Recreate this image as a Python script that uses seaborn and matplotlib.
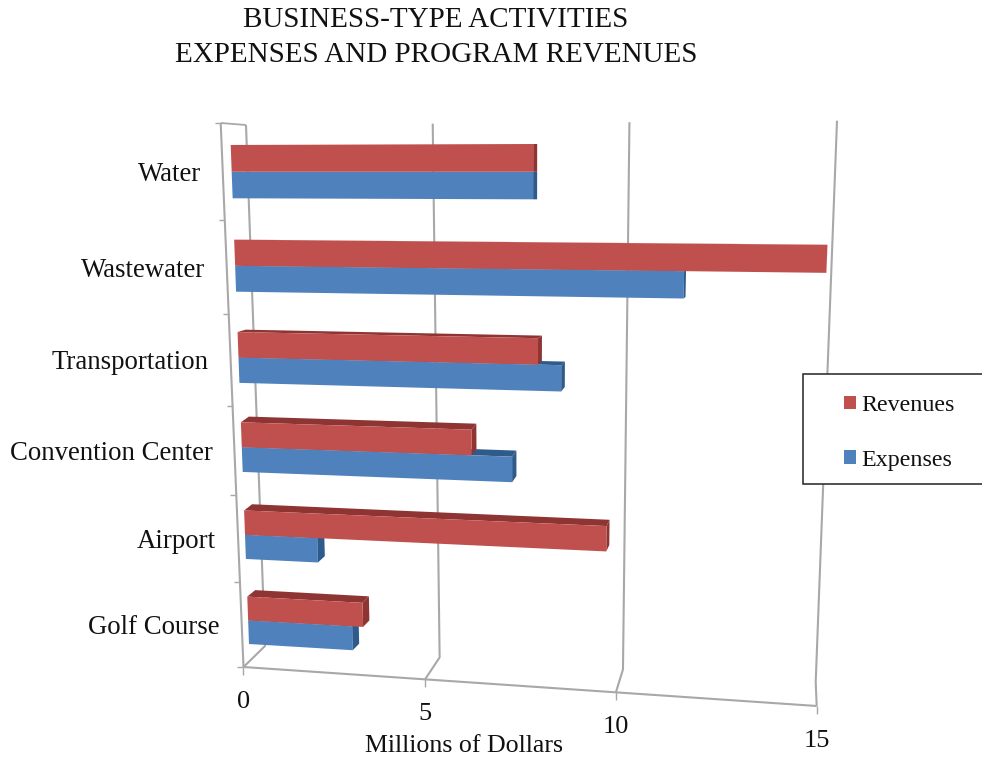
import numpy as np
import pandas as pd
import matplotlib
matplotlib.use("Agg")
import matplotlib.pyplot as plt
from matplotlib.patches import Polygon, Rectangle, Patch
from matplotlib.transforms import Transform, IdentityTransform
import seaborn as sns

categories = ["Water", "Wastewater", "Transportation", "Convention Center", "Airport", "Golf Course"]
revenues = [7.75, 14.85, 7.88, 6.17, 9.65, 3.2]
expenses = [7.75, 11.47, 8.47, 7.22, 2.0, 2.9]
x_ticks = [0, 5, 10, 15]
W, H = 982, 759
RED, RED_D = "#C0504D", "#8E3533"
BLUE, BLUE_D = "#4F81BD", "#2F5A8C"
GRID = "#A8A8A8"
FONT = "Liberation Serif"
BAR_WIDTH = 0.56


def homography(src, dst):
    A, b = [], []
    for (x, y), (X, Y) in zip(src, dst):
        A.append([x, y, 1, 0, 0, 0, -x * X, -y * X]); b.append(X)
        A.append([0, 0, 0, x, y, 1, -x * Y, -y * Y]); b.append(Y)
    return np.append(np.linalg.solve(np.array(A, float), np.array(b, float)), 1).reshape(3, 3)


class Persp(Transform):
    """Maps (value, category position) on a tilted plane to display pixels."""
    input_dims = output_dims = 2
    is_affine = False
    has_inverse = False

    def __init__(self, u0, u1, c00, c01, c10, c11):
        super().__init__()
        self.M = homography([(0, u0), (0, u1), (15, u0), (15, u1)], [c00, c01, c10, c11])

    def transform_non_affine(self, xy):
        xy = np.asarray(xy, float).reshape(-1, 2)
        p = np.c_[xy, np.ones(len(xy))] @ self.M.T
        return np.c_[p[:, 0] / p[:, 2], H - p[:, 1] / p[:, 2]]


half = BAR_WIDTH / 2
bar_plane = Persp(-half, 5 + half, (230.7, 145), (249, 644), (838, 143), (816.5, 678))
back_wall = Persp(-0.5, 5.5, (246, 125), (265, 646), (837, 120.7), (815.7, 682))
front_plane = Persp(-0.5, 5.5, (220.7, 123), (243.5, 667), (842, 119), (816.7, 706))

sns.set_theme(style="white", rc={"font.family": [FONT, "DejaVu Sans"]})
fig = plt.figure(figsize=(W / 100, H / 100), dpi=100)
ax = fig.add_axes([0, 0, 1, 1])

df = pd.DataFrame({
    "Type": categories * 2,
    "Value": revenues + expenses,
    "Series": ["Revenues"] * 6 + ["Expenses"] * 6,
})
sns.barplot(df, y="Type", x="Value", hue="Series", hue_order=["Revenues", "Expenses"],
            palette=[RED, BLUE], saturation=1, width=BAR_WIDTH, legend=False, ax=ax)
ax.set_axis_off()
ident = IdentityTransform()


def depth(pt):
    x, y = pt
    return np.array([x + 0.01365 * (826 - x),
                     y + np.interp(H - y, [240, 336, 430, 600], [0, 2.5, 6, 6.5])])


for patch in list(ax.patches):
    x0, y0, w, h = patch.get_x(), patch.get_y(), patch.get_width(), patch.get_height()
    is_red = matplotlib.colors.same_color(patch.get_facecolor()[:3], RED)
    A, B, C = bar_plane.transform([(0, y0), (w, y0), (w, y0 + h)])
    dark = RED_D if is_red else BLUE_D
    z = 2.2 if is_red else 2.0
    ax.add_patch(Polygon([A, B, depth(B), depth(A)], closed=True, fc=dark, lw=0,
                         transform=ident, zorder=z, clip_on=False))
    ax.add_patch(Polygon([B, C, depth(C), depth(B)], closed=True, fc=dark, lw=0,
                         transform=ident, zorder=z + 0.1, clip_on=False))
    patch.set_transform(bar_plane)
    patch.set_linewidth(0)
    patch.set_clip_on(False)
    patch.set_zorder(3 if is_red else 2.1)


def line(points, **kw):
    pts = np.array(points)
    ax.plot(pts[:, 0], pts[:, 1], transform=ident, color=GRID, clip_on=False,
            solid_capstyle="butt", **kw)


for v in x_ticks:
    top, bot = back_wall.transform([(v, -0.5), (v, 5.5)])
    fb = front_plane.transform([(v, 5.5)])[0]
    line([top, bot, fb], lw=1.5, zorder=1)
    line([fb, fb - [0, 8]], lw=1.0, zorder=1)
    ax.text(fb[0], fb[1] - 35, str(v), transform=ident, ha="center", va="center",
            fontsize=19, color="#111111")

ft, fb = front_plane.transform([(0, -0.5), (0, 5.5)])
line([ft, fb], lw=1.5, zorder=1)
line([fb, front_plane.transform([(15, 5.5)])[0]], lw=1.5, zorder=1)
line([ft, back_wall.transform([(0, -0.5)])[0]], lw=1.3, zorder=1)
for u in np.arange(-0.5, 6):
    t = front_plane.transform([(0, u)])[0]
    line([t, t - [6, 0]], lw=1.0, zorder=1)

for i, name in enumerate(categories):
    t = front_plane.transform([(0, i)])[0]
    ax.text(t[0] - 22, t[1] - 3, name, transform=ident, ha="right", va="center",
            fontsize=19.3, color="#111111")

fig.text(436 / W, 1 - 20 / H, "BUSINESS-TYPE ACTIVITIES", ha="center", va="center",
         fontsize=21, color="#111111")
fig.text(436 / W, 1 - 55 / H, "EXPENSES AND PROGRAM REVENUES", ha="center", va="center",
         fontsize=21, color="#111111")
fig.text(464 / W, 1 - 746 / H, "Millions of Dollars", ha="center", va="center",
         fontsize=18.6, color="#111111")

ax.add_patch(Rectangle((802.5, H - 483.7), 220, 109.4, fc="white", ec="#222222", lw=1.1,
                       transform=ident, zorder=5, clip_on=True))
leg = ax.legend(handles=[Patch(fc=RED, lw=0, label="Revenues"), Patch(fc=BLUE, lw=0, label="Expenses")],
                loc="upper left", bbox_to_anchor=(844, H - 395), bbox_transform=ident,
                frameon=False, borderpad=0, borderaxespad=0, handlelength=0.51, handleheight=0.51,
                handletextpad=0.2, labelspacing=1.4, fontsize=17.3, labelcolor="#111111")
leg.set_zorder(6)

fig.savefig("out.png", dpi=100)
